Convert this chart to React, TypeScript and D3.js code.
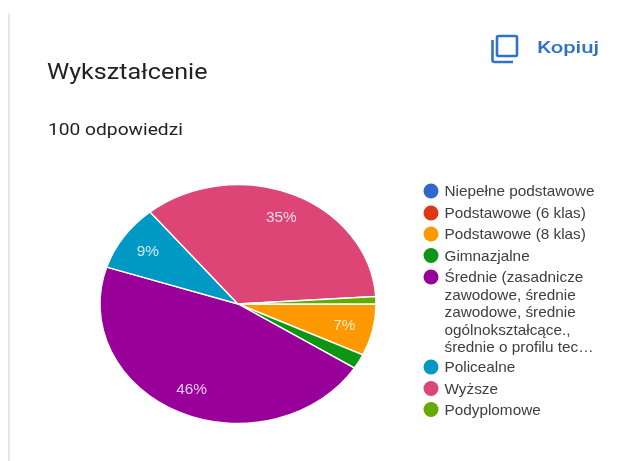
import React from "react";
import * as d3 from "d3";

const categories = ["Niepełne podstawowe", "Podstawowe (6 klas)", "Podstawowe (8 klas)", "Gimnazjalne", "Średnie", "Policealne", "Wyższe", "Podyplomowe"];
const values = [0, 0, 7, 2, 46, 9, 35, 1];
const colors = ["#3366cc", "#dc3912", "#ff9900", "#109618", "#990099", "#0099c6", "#dd4477", "#66aa00"];
const legendLines = [
  ["Niepełne podstawowe"],
  ["Podstawowe (6 klas)"],
  ["Podstawowe (8 klas)"],
  ["Gimnazjalne"],
  ["Średnie (zasadnicze", "zawodowe, średnie", "zawodowe, średnie", "ogólnokształcące.,", "średnie o profilu tec…"],
  ["Policealne"],
  ["Wyższe"],
  ["Podyplomowe"],
];
const legendYs = [191, 213, 234, 255.5, 277, 367, 388.5, 409.5];

const W = 638, H = 461;
const cx = 238, cy = 304, rx = 138, ry = 119.5;

export default function App() {
  const slices = d3.pie<number>().sort(null).startAngle(Math.PI / 2).endAngle(Math.PI / 2 + 2 * Math.PI)(values);
  const arc = d3.arc<d3.PieArcDatum<number>>().innerRadius(0).outerRadius(rx);
  const labelArc = d3.arc<d3.PieArcDatum<number>>().innerRadius(rx * 0.79).outerRadius(rx * 0.79);
  const k = ry / rx;
  const sans = "Liberation Sans, Arial, sans-serif";
  return (
    <svg width={W} height={H} style={{ position: "absolute", left: 0, top: 0, background: "#fff" }}>
      <defs>
        <filter id="soft" x="-5%" y="-5%" width="110%" height="110%">
          <feGaussianBlur stdDeviation="0.45" />
        </filter>
      </defs>
      <g filter="url(#soft)">
        <line x1={9} x2={9} y1={13} y2={461} stroke="#e0e0e0" strokeWidth={1.5} />
        <text transform="translate(47,79) scale(1.14,1)" fontFamily="Roboto" fontSize={22} fill="#202124">Wykształcenie</text>
        <text transform="translate(48,135) scale(1.2,1)" fontFamily="Roboto" fontSize={16} fill="#202124">100 odpowiedzi</text>
        <g fill="none" stroke="#2f73c8" strokeWidth={2.6}>
          <rect x={497} y={36} width={20} height={20} rx={1.5} />
          <path d="M492.5,40 V60 a2,2 0 0 0 2,2 H513" />
        </g>
        <text transform="translate(537,53) scale(1.3,1)" fontFamily="Roboto" fontWeight={500} fontSize={17} fill="#2f73c8">Kopiuj</text>
        <g transform={`translate(${cx},${cy}) scale(1,${k})`}>
          {slices.map((s, i) =>
            s.value > 0 ? (
              <path key={categories[i]} d={arc(s) ?? ""} fill={colors[i]} stroke="#fff" strokeWidth={1.4} vectorEffect="non-scaling-stroke" />
            ) : null
          )}
        </g>
        {slices.map((s, i) => {
          if (s.value < 5) return null;
          const [x, y] = labelArc.centroid(s);
          return (
            <text key={categories[i]} transform={`translate(${cx + x},${cy + y * k + 5}) scale(1.1,1)`} textAnchor="middle" fontFamily={sans} fontSize={14} fill="#fff" fillOpacity={0.8}>
              {s.value}%
            </text>
          );
        })}
        {legendLines.map((lines, i) => (
          <g key={categories[i]}>
            <circle cx={431} cy={legendYs[i]} r={7.5} fill={colors[i]} />
            {lines.map((t, j) => (
              <text key={j} transform={`translate(444.5,${legendYs[i] + 5 + j * 17.5}) scale(1.08,1)`} fontFamily={sans} fontSize={14.2} fill="#3c4043">{t}</text>
            ))}
          </g>
        ))}
      </g>
    </svg>
  );
}
